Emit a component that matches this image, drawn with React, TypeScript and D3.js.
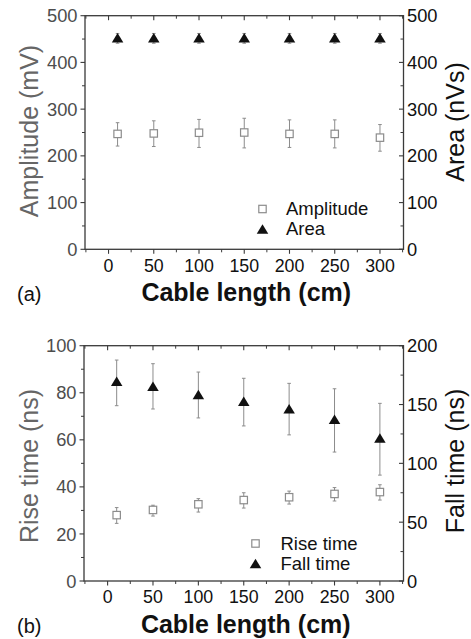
import React from "react";
import * as d3 from "d3";

const cableLength = [10, 50, 100, 150, 200, 250, 300];
const xTicks = [0, 50, 100, 150, 200, 250, 300];

// panel (a)
const amplitude = [247, 248, 249.5, 250, 247, 247, 239];
const amplitudeHi = [271, 275, 278, 280.5, 277, 277, 267];
const amplitudeLo = [221, 220, 218, 217, 218, 217, 210];
const area = [453, 453, 453, 453, 453, 453, 453];
const areaHi = [462, 462, 462, 462, 462, 462, 462];
const areaLo = [441, 441, 441, 441, 441, 441, 441];
const ampTicks = [0, 100, 200, 300, 400, 500];
const areaTicks = [0, 100, 200, 300, 400, 500];

// panel (b)
const riseTime = [28.0, 30.2, 32.6, 34.4, 35.6, 37.0, 37.8];
const riseHi = [31.2, 32.2, 35.0, 37.5, 38.2, 39.7, 40.9];
const riseLo = [24.5, 27.6, 29.3, 31.0, 32.7, 34.0, 34.4];
const fallTime = [169.8, 165.6, 158.5, 152.7, 146.5, 137.5, 121.5];
const fallHi = [187.8, 184.7, 177.6, 172.3, 168, 163.4, 151];
const fallLo = [149, 146.2, 138.6, 131.8, 124.2, 109.6, 90];
const riseTicks = [0, 20, 40, 60, 80, 100];
const fallTicks = [0, 50, 100, 150, 200];

const FONT = "'Liberation Sans', Arial, Helvetica, sans-serif";
const FRAME = "#3a3a3a";
const GRAY = "#8c8c8c";

type PanelProps = {
  box: { left: number; right: number; top: number; bottom: number };
  leftMax: number;
  rightMax: number;
  leftTicks: number[];
  leftMinorStep: number;
  rightTicks: number[];
  rightMinorStep: number;
  sq: number[];
  sqHi: number[];
  sqLo: number[];
  tri: number[];
  triHi: number[];
  triLo: number[];
  leftTitle: string;
  rightTitle: string;
  leftTitleY: number;
  rightTitleY: number;
  legendSq: string;
  legendTri: string;
  legendSymX: number;
  legendTextX: number;
  legendY: number;
  tag: string;
};

function Panel(p: PanelProps) {
  const { left, right, top, bottom } = p.box;
  const x = d3.scaleLinear().domain([-26, 326]).range([left, right]);
  const yL = d3.scaleLinear().domain([0, p.leftMax]).range([bottom, top]);
  const yR = d3.scaleLinear().domain([0, p.rightMax]).range([bottom, top]);
  const xMinor = d3.range(-25, 326, 25).filter((v) => v % 50 !== 0);
  const lMinor = d3.range(0, p.leftMax, p.leftMinorStep).filter((v) => !p.leftTicks.includes(v));
  const rMinor = d3.range(0, p.rightMax, p.rightMinorStep).filter((v) => !p.rightTicks.includes(v));
  const tw = 11.5, th = 9.5, sqs = 7.4, cap = 1.8;
  const triPath = (cx: number, cy: number) =>
    `M${cx},${cy - th / 2}L${cx + tw / 2},${cy + th / 2}L${cx - tw / 2},${cy + th / 2}Z`;
  const sw = 1.3;
  return (
    <g fontFamily={FONT}>
      {cableLength.map((c, i) => (
        <g key={"es" + i} stroke={GRAY} strokeWidth={1}>
          <line x1={x(c)} x2={x(c)} y1={yL(p.sqHi[i])} y2={yL(p.sqLo[i])} />
          <line x1={x(c) - cap} x2={x(c) + cap} y1={yL(p.sqHi[i])} y2={yL(p.sqHi[i])} />
          <line x1={x(c) - cap} x2={x(c) + cap} y1={yL(p.sqLo[i])} y2={yL(p.sqLo[i])} />
        </g>
      ))}
      {cableLength.map((c, i) => (
        <g key={"et" + i} stroke={GRAY} strokeWidth={1}>
          <line x1={x(c)} x2={x(c)} y1={yR(p.triHi[i])} y2={yR(p.triLo[i])} />
          <line x1={x(c) - cap} x2={x(c) + cap} y1={yR(p.triHi[i])} y2={yR(p.triHi[i])} />
          <line x1={x(c) - cap} x2={x(c) + cap} y1={yR(p.triLo[i])} y2={yR(p.triLo[i])} />
        </g>
      ))}
      {cableLength.map((c, i) => (
        <rect key={"s" + i} x={x(c) - sqs / 2} y={yL(p.sq[i]) - sqs / 2} width={sqs} height={sqs}
          fill="white" stroke={GRAY} strokeWidth={1.2} />
      ))}
      {cableLength.map((c, i) => (
        <path key={"t" + i} d={triPath(x(c), yR(p.tri[i]))} fill="#111" />
      ))}
      <rect x={left} y={top} width={right - left} height={bottom - top} fill="none" stroke={FRAME} strokeWidth={sw} />
      {xTicks.map((t) => (
        <g key={"xt" + t} stroke={FRAME} strokeWidth={1.1}>
          <line x1={x(t)} x2={x(t)} y1={bottom} y2={bottom + 4.5} />
          <line x1={x(t)} x2={x(t)} y1={top} y2={top + 4.5} />
        </g>
      ))}
      {xMinor.map((t) => (
        <g key={"xm" + t} stroke={FRAME} strokeWidth={1}>
          <line x1={x(t)} x2={x(t)} y1={bottom} y2={bottom + 3} />
          <line x1={x(t)} x2={x(t)} y1={top} y2={top + 3} />
        </g>
      ))}
      {xTicks.map((t) => (
        <text key={"xl" + t} x={x(t)} y={bottom + 22.4} textAnchor="middle" fontSize={17.8} fill="#111">
          {t}
        </text>
      ))}
      {p.leftTicks.map((t) => (
        <g key={"lt" + t}>
          <line x1={left - 4.5} x2={left} y1={yL(t)} y2={yL(t)} stroke={FRAME} strokeWidth={1.1} />
          <text x={left - 7.5} y={yL(t)} dy="0.36em" textAnchor="end" fontSize={18.3} fill="#4d4d4d">
            {t}
          </text>
        </g>
      ))}
      {lMinor.map((t) => (
        <line key={"lm" + t} x1={left - 3} x2={left} y1={yL(t)} y2={yL(t)} stroke={FRAME} strokeWidth={1} />
      ))}
      {p.rightTicks.map((t) => (
        <g key={"rt" + t}>
          <line x1={right - 4.5} x2={right} y1={yR(t)} y2={yR(t)} stroke={FRAME} strokeWidth={1.1} />
          <text x={right + 3.5} y={yR(t)} dy="0.36em" textAnchor="start" fontSize={18.3} fill="#111">
            {t}
          </text>
        </g>
      ))}
      {rMinor.map((t) => (
        <line key={"rm" + t} x1={right - 3} x2={right} y1={yR(t)} y2={yR(t)} stroke={FRAME} strokeWidth={1} />
      ))}
      <text transform={`translate(37.5,${p.leftTitleY}) rotate(-90)`} textAnchor="middle" fontSize={25} fill="#666">
        {p.leftTitle}
      </text>
      <text transform={`translate(464,${p.rightTitleY}) rotate(-90)`} textAnchor="middle" fontSize={25} fill="#111">
        {p.rightTitle}
      </text>
      <text x={(left + right) / 2 + 2} y={bottom + 52} textAnchor="middle" fontSize={25} fontWeight="bold" fill="#111">
        Cable length (cm)
      </text>
      <text x={17} y={bottom + 52} fontSize={20} fill="#111">
        {p.tag}
      </text>
      <rect x={p.legendSymX - sqs / 2} y={p.legendY - 6 - sqs / 2} width={sqs} height={sqs} fill="white" stroke={GRAY} strokeWidth={1.2} />
      <text x={p.legendTextX} y={p.legendY} fontSize={18.5} fill="#111">{p.legendSq}</text>
      <path d={triPath(p.legendSymX, p.legendY + 14)} fill="#111" />
      <text x={p.legendTextX} y={p.legendY + 20} fontSize={18.5} fill="#111">{p.legendTri}</text>
    </g>
  );
}

export default function App() {
  return (
    <svg width={471} height={639} style={{ position: "absolute", left: 0, top: 0, background: "white" }}>
      <rect width={471} height={639} fill="white" />
      <Panel
        box={{ left: 85, right: 403.5, top: 15.7, bottom: 249.3 }}
        leftMax={500}
        rightMax={500}
        leftTicks={ampTicks}
        leftMinorStep={50}
        rightTicks={areaTicks}
        rightMinorStep={50}
        sq={amplitude}
        sqHi={amplitudeHi}
        sqLo={amplitudeLo}
        tri={area}
        triHi={areaHi}
        triLo={areaLo}
        leftTitle="Amplitude (mV)"
        rightTitle="Area (nVs)"
        leftTitleY={131}
        rightTitleY={122}
        legendSq="Amplitude"
        legendTri="Area"
        legendSymX={262.5}
        legendTextX={286}
        legendY={215}
        tag="(a)"
      />
      <Panel
        box={{ left: 84, right: 403.5, top: 345.7, bottom: 581 }}
        leftMax={100}
        rightMax={200}
        leftTicks={riseTicks}
        leftMinorStep={10}
        rightTicks={fallTicks}
        rightMinorStep={25}
        sq={riseTime}
        sqHi={riseHi}
        sqLo={riseLo}
        tri={fallTime}
        triHi={fallHi}
        triLo={fallLo}
        leftTitle="Rise time (ns)"
        rightTitle="Fall time (ns)"
        leftTitleY={466}
        rightTitleY={461}
        legendSq="Rise time"
        legendTri="Fall time"
        legendSymX={255.5}
        legendTextX={280.5}
        legendY={549.5}
        tag="(b)"
      />
    </svg>
  );
}
